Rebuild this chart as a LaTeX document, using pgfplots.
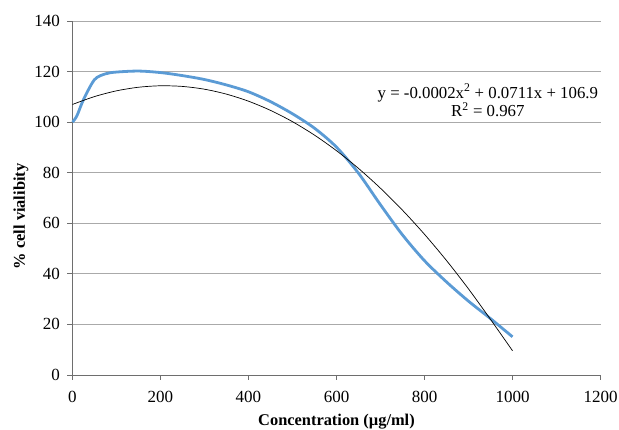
\documentclass[border=0pt]{standalone}
\usepackage{fontspec}
\setmainfont{Liberation Serif}
\usepackage{pgfplots}
\pgfplotsset{compat=1.18}
\definecolor{excelblue}{RGB}{91,155,213}
\definecolor{gridgray}{RGB}{170,170,170}
\definecolor{axisgray}{RGB}{110,110,110}
\begin{document}
\fontsize{16.4}{19}\selectfont
\begin{tikzpicture}
\begin{axis}[
    at={(0pt,0pt)}, anchor=south west,
    scale only axis,
    width=528pt, height=354pt,
    xmin=0, xmax=1200, ymin=0, ymax=140,
    xtick={0,200,...,1200},
    ytick={0,20,...,140},
    axis lines*=left,
    axis line style={axisgray, line width=0.9pt},
    tick align=outside,
    major tick length=5pt,
    tick style={axisgray, line width=0.9pt},
    ymajorgrids=true,
    grid style={gridgray, line width=0.9pt},
    /pgf/number format/assume math mode=true,
    /pgf/number format/1000 sep={},
    tick label style={font=\fontsize{17}{19}\selectfont},
    xticklabel style={yshift=-6pt},
    yticklabel style={xshift=-2pt},
    xlabel={\textbf{Concentration (µg/ml)}},
    ylabel={\textbf{\% cell vialibity}},
    label style={font=\fontsize{16.4}{19}\selectfont},
    xlabel style={at={(axis description cs:0.5,0)}, anchor=base, yshift=-51pt},
    ylabel style={at={(axis description cs:-0.09,0.448)}, anchor=base},
    clip=false,
]
% measured viability (smoothed)
\addplot[excelblue, line width=2.8pt, smooth] coordinates {
    (0,100)(10,102.5)(25,108.9)(50,116.8)(75,119.1)(100,119.8)(150,120.2)
    (200,119.6)(250,118.4)(300,116.85)(350,114.7)(400,112.0)(450,108.1)
    (500,103.3)(550,97.6)(600,90.1)(650,79.8)(700,67.3)(750,55.4)
    (800,45.2)(850,36.8)(900,29.2)(950,22.3)(1000,15.1)
};
% polynomial trendline
\addplot[black, line width=0.7pt, smooth] coordinates {
    (0,107)(50,110.11)(100,112.38)(150,113.80)(200,114.38)(250,114.12)
    (300,113.02)(350,111.07)(400,108.28)(450,104.65)(500,100.18)
    (550,94.86)(600,88.70)(650,81.70)(700,73.85)(750,65.17)(800,55.64)
    (850,45.27)(900,34.05)(950,22.00)(1000,9.6)
};
\node[align=center, font=\fontsize{16.8}{18.4}\selectfont, anchor=center]
    at (axis cs:944,108.6) {y = -0.0002x\textsuperscript{2} + 0.0711x + 106.9\\R\textsuperscript{2} = 0.967};
\end{axis}
\pgfresetboundingbox
\path[use as bounding box] (-72.5pt,-55pt) rectangle (546.5pt,375pt);
\end{tikzpicture}
\end{document}
